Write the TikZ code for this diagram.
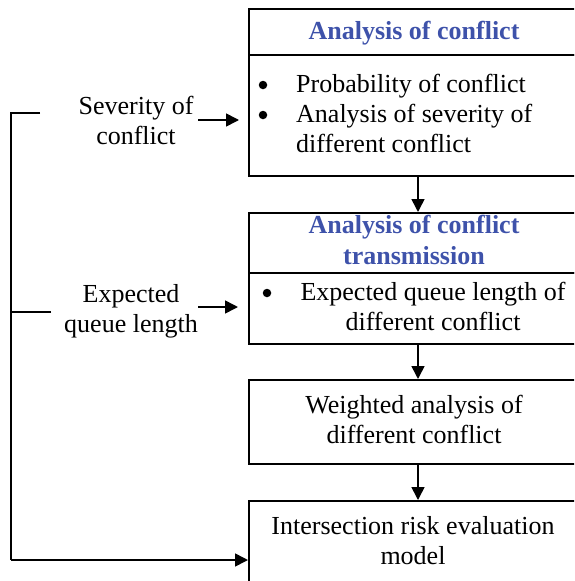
\documentclass[tikz,border=0pt]{standalone}
\usepackage{fontspec}
\setmainfont{Liberation Serif}
\usetikzlibrary{arrows.meta}
\definecolor{headblue}{RGB}{62,82,170}
\begin{document}
\begin{tikzpicture}[x=1pt,y=-1pt,
  every node/.style={font=\fontsize{26}{30}\selectfont},
  frame/.style={draw, line width=1.6pt, inner sep=0pt, anchor=north west, minimum width=332pt},
  head/.style={font=\fontsize{26}{31}\selectfont\bfseries, text=headblue, align=center, inner sep=0pt},
  txt/.style={align=center, inner sep=0pt},
  dot/.style={circle, fill, inner sep=0pt, minimum size=8.5pt},
  flow/.style={line width=1.6pt, -{Triangle[length=13pt,width=13pt]}},
  link/.style={line width=1.6pt}]
\useasboundingbox (0,0) rectangle (574,581);
\clip (0,0) rectangle (574,581);

% boxes of the flow chart
\node[frame, minimum height=46pt]  (h1) at (248,8)   {};
\node[frame, minimum height=121pt] (b1) at (248,54)  {};
\node[frame, minimum height=60pt]  (h2) at (248,212) {};
\node[frame, minimum height=71pt]  (b2) at (248,272) {};
\node[frame, minimum height=84pt]  (b3) at (248,379) {};
\node[frame, minimum height=90pt]  (b4) at (248,500) {};

% box texts (base anchor = baseline of the last line)
\node[head, anchor=base] (t1) at (414,39) {Analysis of conflict};
\node[dot] (d1) at (263,85)  {};
\node[dot] (d2) at (263,115) {};
\node[anchor=base west, inner sep=0pt, align=left] (l1) at (296,152)
  {Probability of conflict\\Analysis of severity of\\different conflict};

\node[head, anchor=base] (t2) at (414,264) {Analysis of conflict\\transmission};
\node[dot] (d3) at (267,293) {};
\node[txt, anchor=base] (l2) at (433,330) {Expected queue length of\\different conflict};

\node[txt, anchor=base] (l3) at (414,443) {Weighted analysis of\\different conflict};
\node[txt, anchor=base] (l4) at (413,564) {Intersection risk evaluation\\model};

% side labels
\node[txt, anchor=base] (s1) at (136,144) {Severity of\\conflict};
\node[txt, anchor=base] (s2) at (131,332) {Expected\\queue length};

% connectors
\coordinate (ax) at (418,0);
\draw[flow] (b1.south -| ax) -- (h2.north -| ax);
\draw[flow] (b2.south -| ax) -- (b3.north -| ax);
\draw[flow] (b3.south -| ax) -- (b4.north -| ax);

\coordinate (a1) at (198,120);
\coordinate (a2) at (198,307);
\draw[flow, shorten >=9pt] (a1) -- (a1 -| b1.west);
\draw[flow, shorten >=10pt] (a2) -- (a2 -| b2.west);

\coordinate (fbtop) at (40,113);
\coordinate (fbmid) at (51,312);
\coordinate (fbbot) at (11,560);
\draw[link] (fbtop) -| (fbbot);
\draw[link] (fbmid) -- (fbmid -| fbbot);
\draw[flow] (fbbot) -- (fbbot -| b4.west);
\end{tikzpicture}
\end{document}
